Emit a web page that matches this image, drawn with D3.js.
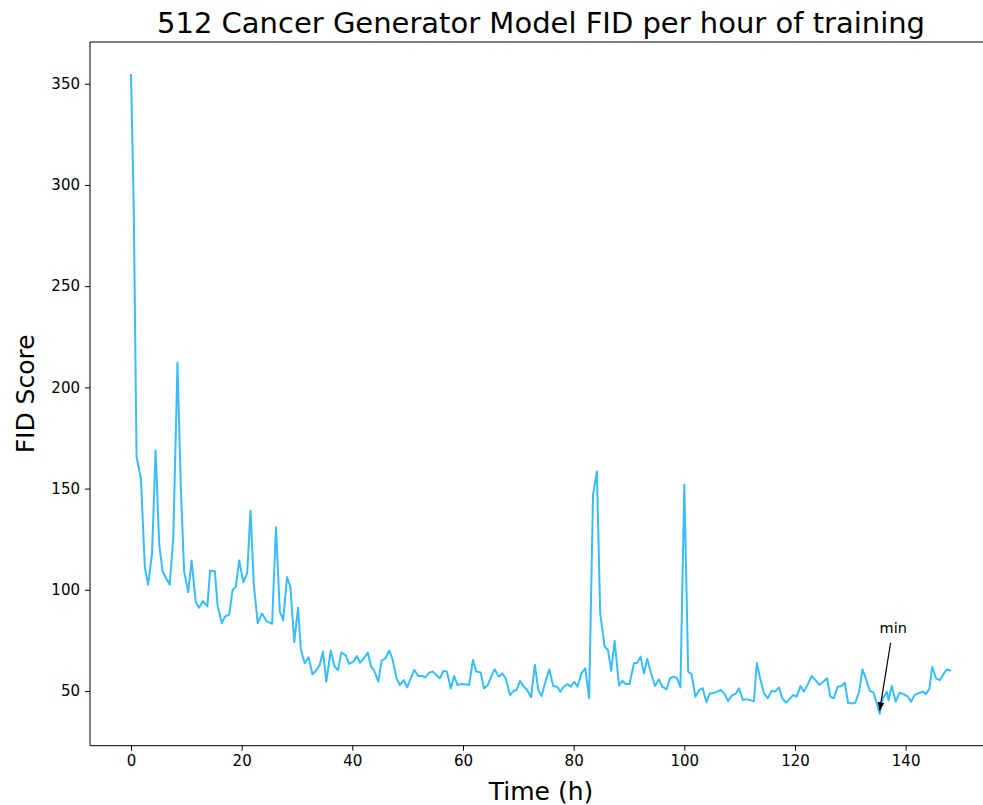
<!DOCTYPE html>
<html>
<head>
<meta charset="utf-8">
<script src="https://cdn.jsdelivr.net/npm/d3@7"></script>
<style>
  html, body { margin: 0; padding: 0; background: #fff; overflow: hidden; }
  svg { display: block; font-family: "DejaVu Sans", sans-serif; }
</style>
</head>
<body>
<svg id="chart" width="983" height="805"></svg>
<script>
const titleText = "512 Cancer Generator Model FID per hour of training";
const xLabel = "Time (h)";
const yLabel = "FID Score";
const xTicks = [0, 20, 40, 60, 80, 100, 120, 140];
const yTicks = [50, 100, 150, 200, 250, 300, 350];

const hours = [
  0, 0.5, 1.0, 1.8, 2.5, 3.1, 3.8, 4.45, 5.1, 5.7, 6.4, 7.0, 7.65, 8.4, 9.0, 9.6,
  10.35, 10.95, 11.7, 12.3, 13.0, 13.8, 14.3, 15.15, 15.65, 16.4, 17.0, 17.75, 18.35, 18.95, 19.55,
  20.3, 21.0, 21.6, 22.2, 22.9, 23.7, 24.5, 25.5, 26.2, 26.9, 27.5, 28.2, 28.8, 29.5,
  30.2, 30.7, 31.4, 32.1, 32.8, 33.5, 34.1, 34.7, 35.3, 36.1, 36.8, 37.4, 38.0, 38.8, 39.4,
  40.2, 40.8, 41.4, 42.1, 42.8, 43.4, 43.9, 44.7, 45.3, 46.0, 46.7, 47.3, 48.0, 48.6, 49.3, 49.9,
  50.5, 51.2, 51.9, 52.6, 53.2, 53.9, 54.5, 55.2, 55.8, 56.5, 57.1, 57.8, 58.4, 59.0, 59.7,
  60.4, 61.1, 61.8, 62.4, 63.2, 63.8, 64.5, 65.1, 65.7, 66.5, 67.1, 67.7, 68.5, 69.1, 69.7,
  70.3, 70.9, 71.6, 72.3, 73.0, 73.6, 74.2, 74.9, 75.6, 76.3, 77.0, 77.6, 78.2, 78.9, 79.5,
  80.1, 80.7, 81.4, 82.1, 82.8, 83.5, 84.2, 84.8, 85.6, 86.2, 86.8, 87.4, 88.2, 88.8, 89.4,
  90.1, 90.9, 91.5, 92.1, 92.7, 93.3, 94.0, 94.7, 95.4, 96.0, 96.8, 97.4, 98.1, 98.7, 99.3,
  100.0, 100.7, 101.3, 102.0, 102.7, 103.3, 104.0, 104.6, 105.3, 105.9, 106.6, 107.3, 107.9, 108.6, 109.3, 109.9,
  110.6, 111.2, 111.9, 112.6, 113.1, 113.7, 114.4, 115.1, 115.8, 116.4, 117.1, 117.7, 118.4, 119.1, 119.7,
  120.3, 121.0, 121.6, 122.4, 123.0, 123.7, 124.4, 125.1, 125.8, 126.4, 127.0, 127.7, 128.4, 129.0, 129.6,
  130.3, 130.9, 131.6, 132.2, 132.8, 133.5, 134.2, 134.7, 135.3, 135.9, 136.6, 136.9, 137.5, 138.2, 138.9, 139.6,
  140.4, 141.0, 141.6, 142.2, 143.1, 143.7, 144.3, 144.8, 145.5, 146.2, 146.9, 147.5, 148.2
];

const fid = [
  354.8, 288, 166, 154.6, 111, 102.5, 117.7, 168.8, 122.4, 109.2, 105.5, 102.5, 126.2, 212.3, 150.8, 109.2,
  98.8, 114.5, 94, 91.2, 94.4, 91.8, 109.5, 109.2, 92.1, 83.6, 86.8, 87.8, 99.7, 101.6, 114.5,
  103.8, 108.2, 139.1, 102.5, 83.6, 88.3, 84.5, 83.2, 130.9, 89.3, 84.9, 106.3, 101.6, 74.1,
  91.2, 70.4, 63.7, 66.7, 58.3, 60.3, 62.9, 69.5, 54.6, 70, 62, 60.4, 69, 67.8, 63.4,
  64.5, 67.3, 64, 66.2, 69, 62, 60.4, 54.6, 65, 66.2, 70, 65.3, 56.3, 53, 55.4, 51.8,
  55.8, 60.4, 57.4, 57.4, 56.8, 59.1, 59.6, 57.9, 56.3, 60, 59.6, 51.3, 57.4, 53, 53.5,
  53.3, 53, 65.3, 59.6, 59.2, 51.3, 53, 57.1, 60.7, 57.1, 58.7, 56.3, 48, 50, 50.5,
  55, 52.5, 50.5, 46.9, 62.9, 50.5, 47.5, 54.6, 60.7, 52.5, 52.1, 49.7, 52.1, 53.5, 52.1,
  54.6, 52.1, 58.7, 61.2, 46.4, 146.9, 158.5, 88.4, 72, 70.3, 60, 74.9, 52.7, 55, 53.5,
  53.5, 63.7, 64, 67, 58.7, 65.8, 58.7, 52.5, 55.8, 52.2, 50.8, 56.3, 57.1, 56.3, 51.8,
  151.9, 59.6, 58.4, 47.2, 50.5, 51.5, 44.5, 48.8, 49, 49.7, 50.5, 48.5, 45, 47.8, 48.7, 51.3,
  45.5, 46, 45.5, 45, 64, 56.3, 48.8, 46.4, 50.2, 49.7, 51.8, 46.4, 44.2, 46.4, 48,
  47.2, 52.5, 49.7, 53.8, 57.4, 55.4, 53, 54.6, 56.3, 47.2, 46.4, 52.1, 52.5, 54.1, 44.2,
  43.9, 44.2, 49.7, 60.7, 56.3, 50.2, 49.2, 44.7, 38.8, 46.4, 49.7, 45.5, 52.5, 44.7, 49.2, 48.5,
  47.2, 44.7, 48, 48.8, 49.7, 48.5, 51.3, 62, 56.3, 55.4, 58.7, 60.7, 60
];

const annotationText = "min";
const annotationOffset = 40;

const svg = d3.select("#chart");
const plot = { left: 90, top: 42, right: 992, bottom: 745.7 };

const xExt = d3.extent(hours);
const xPad = (xExt[1] - xExt[0]) * 0.05;
const x = d3.scaleLinear().domain([xExt[0] - xPad, xExt[1] + xPad]).range([plot.left, plot.right]);

const yExt = d3.extent(fid);
const yPad = (yExt[1] - yExt[0]) * 0.05;
const y = d3.scaleLinear().domain([yExt[0] - yPad, yExt[1] + yPad]).range([plot.bottom, plot.top]);

const data = hours.map((h, i) => ({ h, v: fid[i] }));

// clip
const defs = svg.append("defs");
defs.append("clipPath").attr("id", "clip")
  .append("rect").attr("x", plot.left).attr("y", plot.top)
  .attr("width", plot.right - plot.left).attr("height", plot.bottom - plot.top);

// line
svg.append("path")
  .datum(data)
  .attr("clip-path", "url(#clip)")
  .attr("fill", "none")
  .attr("stroke", "#38bdfa")
  .attr("stroke-width", 2)
  .attr("stroke-linejoin", "round")
  .attr("d", d3.line().x(d => x(d.h)).y(d => y(d.v)));

// axes
const xAxis = d3.axisBottom(x).tickValues(xTicks).tickSize(5).tickPadding(5).tickFormat(d3.format("d"));
const yAxis = d3.axisLeft(y).tickValues(yTicks).tickSize(5).tickPadding(5).tickFormat(d3.format("d"));

const gx = svg.append("g").attr("transform", `translate(0,${plot.bottom})`).call(xAxis);
const gy = svg.append("g").attr("transform", `translate(${plot.left},0)`).call(yAxis);
[gx, gy].forEach(g => {
  g.select(".domain").remove();
  g.selectAll(".tick line").attr("stroke", "#000").attr("stroke-width", 1);
  g.selectAll(".tick text").attr("fill", "#000").style("font-size", "15px").style("font-family", "DejaVu Sans");
});

// spines (right spine falls outside the visible page)
svg.append("line").attr("x1", plot.left).attr("x2", plot.left).attr("y1", plot.top).attr("y2", plot.bottom)
  .attr("stroke", "#000").attr("stroke-width", 1);
svg.append("line").attr("x1", plot.left).attr("x2", plot.right).attr("y1", plot.bottom).attr("y2", plot.bottom)
  .attr("stroke", "#000").attr("stroke-width", 1);
svg.append("line").attr("x1", plot.left).attr("x2", plot.right).attr("y1", plot.top).attr("y2", plot.top)
  .attr("stroke", "#000").attr("stroke-width", 1);

// title and labels
svg.append("text").attr("x", (plot.left + plot.right) / 2).attr("y", 33)
  .attr("text-anchor", "middle").style("font-size", "29px").attr("fill", "#000").text(titleText);
svg.append("text").attr("x", (plot.left + plot.right) / 2).attr("y", 800)
  .attr("text-anchor", "middle").style("font-size", "25px").attr("fill", "#000").text(xLabel);
svg.append("text").attr("transform", `translate(34,${(plot.top + plot.bottom) / 2}) rotate(-90)`)
  .attr("text-anchor", "middle").style("font-size", "25px").attr("fill", "#000").text(yLabel);

// annotation at minimum
const minIdx = d3.minIndex(fid);
const mx = hours[minIdx], my = fid[minIdx];
const tx = x(mx), ty = y(my + annotationOffset);
svg.append("text").attr("x", tx).attr("y", ty)
  .style("font-size", "14.5px").attr("fill", "#000").text(annotationText);

defs.append("marker").attr("id", "arrowhead")
  .attr("viewBox", "0 0 10 10").attr("refX", 10).attr("refY", 5)
  .attr("markerWidth", 7).attr("markerHeight", 7).attr("orient", "auto")
  .append("path").attr("d", "M0,1 L10,5 L0,9 Z").attr("fill", "#000");

const sx = tx + 11, sy = ty + 10;
const ex = x(mx), ey = y(my) - 3;
svg.append("line").attr("x1", sx).attr("y1", sy).attr("x2", ex).attr("y2", ey)
  .attr("stroke", "#000").attr("stroke-width", 1.2).attr("marker-end", "url(#arrowhead)");
</script>
</body>
</html>
